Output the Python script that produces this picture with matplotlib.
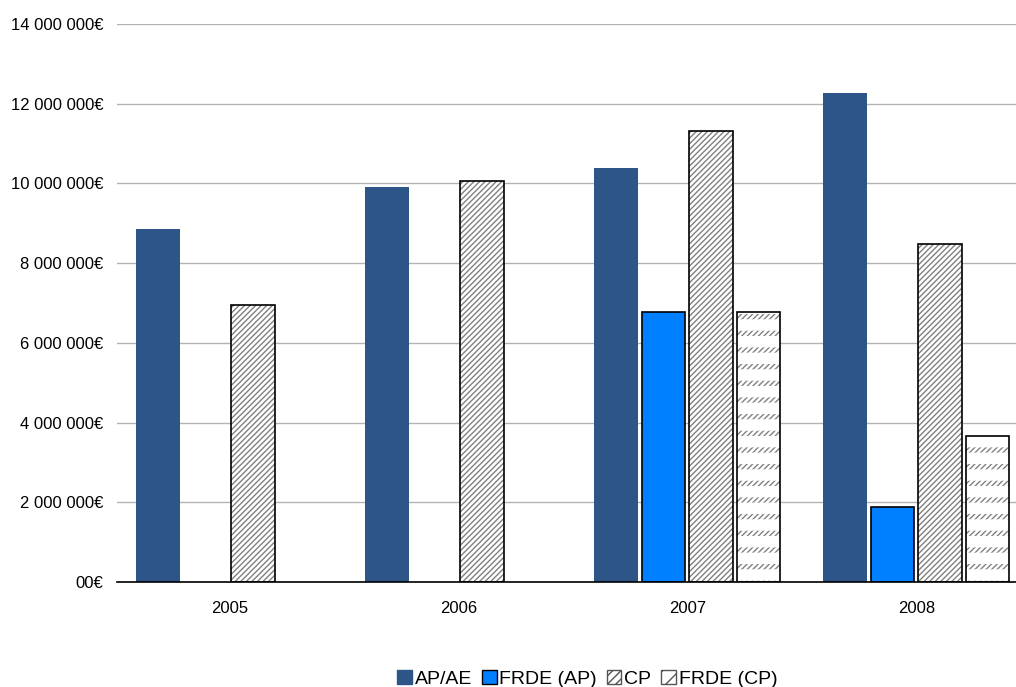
import numpy as np
import matplotlib
matplotlib.use("Agg")
import matplotlib.pyplot as plt
from matplotlib.patches import Patch

plt.rcParams['font.family'] = ['Liberation Sans', 'DejaVu Sans']
plt.rcParams['hatch.linewidth'] = 1.0

years = ['2005', '2006', '2007', '2008']
ap_ae = [8.86e6, 9.91e6, 10.39e6, 12.27e6]
frde_ap = [0, 0, 6.78e6, 1.89e6]
cp = [6.96e6, 10.06e6, 11.31e6, 8.47e6]
frde_cp = [0, 0, 6.78e6, 3.67e6]
yticks = [0, 2e6, 4e6, 6e6, 8e6, 10e6, 12e6, 14e6]
ytick_labels = ['00€', '2 000 000€', '4 000 000€', '6 000 000€',
                '8 000 000€', '10 000 000€', '12 000 000€', '14 000 000€']

fig = plt.figure(figsize=(10.16, 6.87), dpi=100)
# the plot area runs past the right edge of the picture, as in the original
ax = fig.add_axes([0.1152, 0.1528, 0.9016, 0.8122])

x = np.arange(len(years))
slot = 0.208
w = 0.19

ax.bar(x - 1.5 * slot, ap_ae, w, color='#2d5588', linewidth=0, zorder=3)

m = np.array(frde_ap) > 0
ax.bar(x[m] - 0.5 * slot, np.array(frde_ap)[m], w, color='#0080ff',
       edgecolor='black', linewidth=1.2, zorder=3)

# CP: dense grey diagonal hatch
ax.bar(x + 0.5 * slot, cp, w, color='white', edgecolor='#808080',
       hatch='//////', linewidth=0, zorder=3)
ax.bar(x + 0.5 * slot, cp, w, fill=False, edgecolor='black',
       linewidth=1.2, zorder=4)

# FRDE (CP): diagonal hatch cut into short dashes by thick white rows
m2 = np.array(frde_cp) > 0
xs = x[m2] + 1.5 * slot
vals = np.array(frde_cp)[m2]
ax.bar(xs, vals, w, color='white', edgecolor='#808080',
       hatch='//////', linewidth=0, zorder=3)
with plt.rc_context({'hatch.linewidth': 8.2}):
    ax.bar(xs, vals, w, fill=False, edgecolor='white',
           hatch='-', linewidth=0, zorder=3.5)
ax.bar(xs, vals, w, fill=False, edgecolor='black',
       linewidth=1.2, zorder=4)

ax.set_xlim(-0.49, 3.51)
ax.set_ylim(0, 14e6)
ax.set_yticks(yticks)
ax.set_yticklabels(ytick_labels)
ax.set_xticks(x)
ax.set_xticklabels(years)
ax.tick_params(axis='both', length=0, labelsize=12, colors='black')
ax.tick_params(axis='x', pad=14)
ax.tick_params(axis='y', pad=10)
ax.yaxis.grid(True, color='#b3b3b3', linewidth=1, zorder=0)
ax.set_axisbelow(True)
for s in ['top', 'right', 'left']:
    ax.spines[s].set_visible(False)
ax.spines['bottom'].set_linewidth(1.2)
ax.spines['bottom'].set_zorder(5)

handles = [
    Patch(facecolor='#2d5588', edgecolor='#2d5588', label='AP/AE'),
    Patch(facecolor='#0080ff', edgecolor='black', label='FRDE (AP)'),
    Patch(facecolor='white', edgecolor='#555555', hatch='////', label='CP'),
    Patch(facecolor='white', edgecolor='#555555', hatch='//', label='FRDE (CP)'),
]
fig.legend(handles=handles, loc='lower center', ncol=4, frameon=False,
           bbox_to_anchor=(0.578, -0.027), fontsize=14, handlelength=0.75,
           handleheight=0.75, handletextpad=0.15, columnspacing=0.5)

fig.savefig('out.png', dpi=100)
